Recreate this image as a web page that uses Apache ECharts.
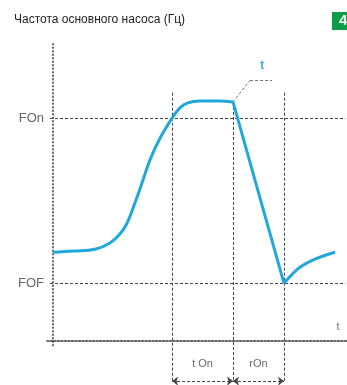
<!DOCTYPE html>
<html>
<head>
<meta charset="utf-8">
<script src="https://cdn.jsdelivr.net/npm/echarts@6/dist/echarts.min.js"></script>
<style>
  html, body { margin: 0; padding: 0; background: #fff; }
  #chart { width: 347px; height: 385px; }
</style>
</head>
<body>
<div id="chart"></div>
<script>
  // кривая частоты насоса (время, частота)
  var riseCurve = [[0, 29.5], [7, 29.9], [14, 30.5], [19, 32.6], [22.3, 35.6], [24.7, 39.3], [27.3, 46], [30, 53.7],
    [32.3, 60.4], [35.7, 67.8], [39.7, 74.5], [42.3, 77.9], [44.7, 79.5], [49, 80.2], [55.7, 80.2], [60, 79.9]];
  var dropCurve = [[60, 79.9], [77, 19.1]];
  var recoverCurve = [[77, 19.1], [79.7, 22.1], [82.3, 24.5], [87.3, 27.2], [94, 29.5]];
  // уровни и отметки времени
  var levelNames = ['FOn', 'FOF'];
  var levelValues = [74.5, 19.1];
  var timeMarks = [39.7, 60, 77];
  var timeTops = [83, 79.9, 83];
  var spanNames = ['t On', 'rOn'];

  var chart = echarts.init(document.getElementById('chart'), null, { renderer: 'canvas' });

  var guide = { color: '#444', type: [3, 2], width: 1 };
  var axisStyle = { color: '#333', type: [2, 1.5], width: 1.5 };
  var dimY = -13.7;

  var lines = [];
  // ось Y
  lines.push([{ coord: [0, -2], lineStyle: axisStyle }, { coord: [0, 100] }]);
  // уровни FOn / FOF
  levelNames.forEach(function (n, i) {
    lines.push([{ coord: [-1, levelValues[i]], lineStyle: guide,
      label: { show: true, position: 'start', formatter: n, distance: 6, color: '#666', fontSize: 13, fontFamily: 'Liberation Sans' } },
      { coord: [97.5, levelValues[i]] }]);
  });
  // вертикальные отметки
  timeMarks.forEach(function (t, i) {
    lines.push([{ coord: [t, timeTops[i]], lineStyle: guide }, { coord: [t, -14] }]);
  });
  // размерные стрелки
  for (var i = 0; i < 2; i++) {
    lines.push([{ coord: [timeMarks[i], dimY], symbol: 'arrow', lineStyle: guide, itemStyle: { color: '#111' } },
      { coord: [timeMarks[i + 1], dimY], symbol: 'arrow', itemStyle: { color: '#111' } }]);
  }
  // выноска
  lines.push([{ coord: [60, 79.9], lineStyle: { color: '#777', type: [3, 2], width: 1 } }, { coord: [65.7, 87.2] }]);
  lines.push([{ coord: [65.7, 87.2], lineStyle: { color: '#777', type: [3, 2], width: 1 } }, { coord: [73, 87.2] }]);

  var labels = [
    { value: [(timeMarks[0] + timeMarks[1]) / 2, -8], name: spanNames[0], color: '#444', size: 11, weight: 'normal' },
    { value: [(timeMarks[1] + timeMarks[2]) / 2, -8], name: spanNames[1], color: '#444', size: 11, weight: 'normal' },
    { value: [95, 4.4], name: 't', color: '#555', size: 11, weight: 'normal' },
    { value: [69.7, 92], name: 't', color: '#1fa3d8', size: 13, weight: 'bold' }
  ];

  var lineStyle = { color: '#22a7da', width: 3 };

  chart.setOption({
    animation: false,
    backgroundColor: '#fff',
    title: {
      text: 'Частота основного насоса (Гц)',
      left: 9, top: 9,
      textStyle: { fontFamily: 'Liberation Sans Narrow, Liberation Sans', fontSize: 12, fontWeight: 'normal', color: '#222' }
    },
    graphic: [
      { type: 'rect', right: 0, top: 12, shape: { width: 15, height: 18 }, style: { fill: '#0a9e48' } },
      { type: 'text', left: 339, top: 13, style: { text: '4', fill: '#fff', font: 'bold 15px Liberation Sans' } }
    ],
    grid: { left: 47, right: 0, top: 42, bottom: 0, containLabel: false },
    xAxis: {
      type: 'value', min: -2, max: 98,
      axisLine: { show: true, onZero: true, lineStyle: axisStyle },
      axisTick: { show: false }, axisLabel: { show: false }, splitLine: { show: false }
    },
    yAxis: {
      type: 'value', min: -15, max: 100,
      axisLine: { show: false }, axisTick: { show: false }, axisLabel: { show: false }, splitLine: { show: false }
    },
    series: [
      {
        type: 'line', data: riseCurve, smooth: 0.4, symbol: 'none', lineStyle: lineStyle, z: 5,
        markLine: { silent: true, symbol: 'none', symbolSize: [7, 6], label: { show: false }, data: lines, z: 1 }
      },
      { type: 'line', data: dropCurve, symbol: 'none', lineStyle: lineStyle, z: 5 },
      { type: 'line', data: recoverCurve, smooth: 0.4, symbol: 'none', lineStyle: lineStyle, z: 5 },
      {
        type: 'scatter', symbolSize: 0, silent: true,
        data: labels.map(function (d) {
          return { value: d.value, name: d.name, label: { color: d.color, fontSize: d.size, fontWeight: d.weight } };
        }),
        label: { show: true, position: 'inside', formatter: '{b}', fontFamily: 'Liberation Sans Narrow, Liberation Sans' }
      }
    ]
  });
</script>
</body>
</html>
